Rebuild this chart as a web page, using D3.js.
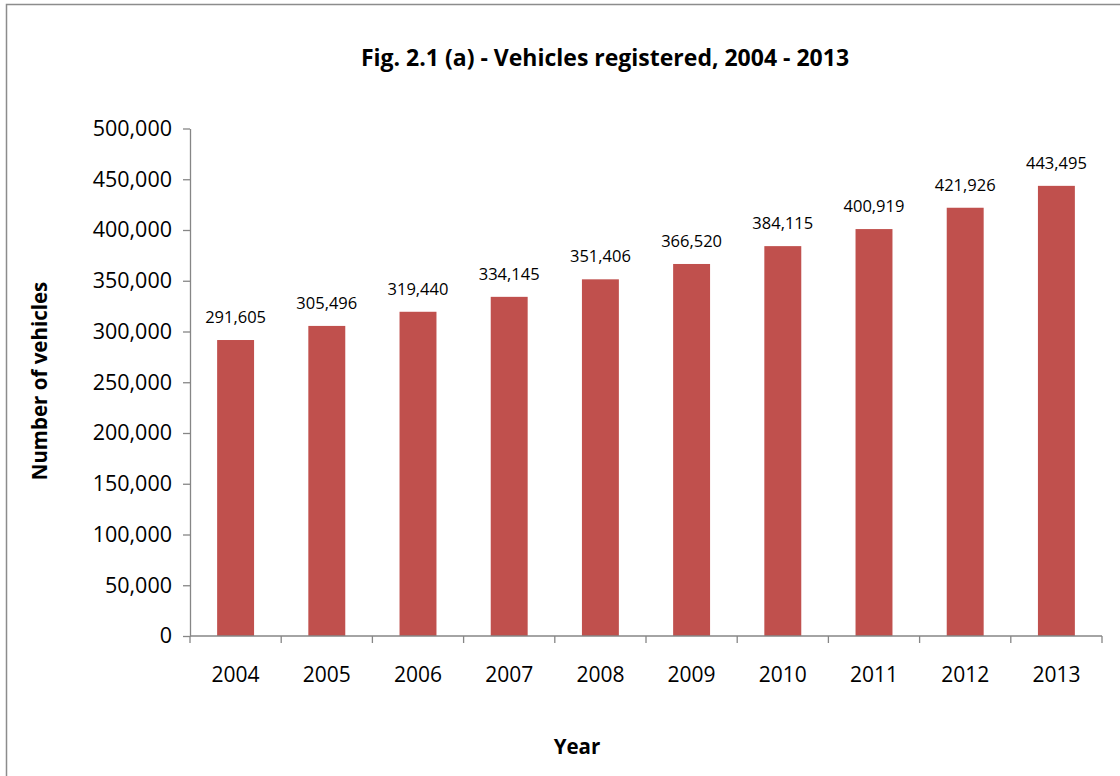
<!DOCTYPE html>
<html>
<head>
<meta charset="utf-8">
<script src="https://cdn.jsdelivr.net/npm/d3@7"></script>
<style>
  html, body { margin: 0; padding: 0; background: #fff; }
  svg { display: block; font-family: "Open Sans", "Liberation Sans", sans-serif; }
</style>
</head>
<body>
<svg id="chart" width="1120" height="776"></svg>
<script>
// Registered vehicles by year
const years = ["2004", "2005", "2006", "2007", "2008", "2009", "2010", "2011", "2012", "2013"];
const vehicles = [291605, 305496, 319440, 334145, 351406, 366520, 384115, 400919, 421926, 443495];
const yTicks = [0, 50000, 100000, 150000, 200000, 250000, 300000, 350000, 400000, 450000, 500000];

const titleText = "Fig. 2.1 (a) - Vehicles registered, 2004 - 2013";
const xTitle = "Year";
const yTitle = "Number of vehicles";

const svg = d3.select("#chart");
const fmt = d3.format(",");

// Plot frame
const plotLeft = 190, plotRight = 1102, plotTop = 128.5, plotBottom = 636;
const axisColor = "#868686";

// Outer chart border
svg.append("rect")
  .attr("x", 6.5).attr("y", 4.5)
  .attr("width", 1125).attr("height", 790)
  .attr("fill", "none").attr("stroke", "#8c8c8c").attr("stroke-width", 1.5);

const x = d3.scaleBand().domain(years).range([plotLeft, plotRight]).paddingInner(0.595).paddingOuter(0.2975);
const y = d3.scaleLinear().domain([0, 500000]).range([plotBottom, plotTop]);

// Bars
svg.append("g").selectAll("rect")
  .data(years)
  .join("rect")
  .attr("x", (d) => x(d))
  .attr("y", (d, i) => y(vehicles[i]))
  .attr("width", x.bandwidth())
  .attr("height", (d, i) => plotBottom - y(vehicles[i]))
  .attr("fill", "#C0504D");

// Value labels
svg.append("g").selectAll("text")
  .data(years)
  .join("text")
  .attr("x", (d) => x(d) + x.bandwidth() / 2)
  .attr("y", (d, i) => y(vehicles[i]) - 17)
  .attr("text-anchor", "middle")
  .attr("font-size", 16.5)
  .attr("fill", "#000")
  .text((d, i) => fmt(vehicles[i]));

// Y axis
const yAxis = svg.append("g")
  .attr("transform", `translate(${plotLeft},0)`)
  .call(d3.axisLeft(y).tickValues(yTicks).tickFormat(fmt).tickSize(7).tickSizeOuter(0).tickPadding(11));
yAxis.select(".domain").attr("stroke", axisColor).attr("stroke-width", 1.3);
yAxis.selectAll(".tick line").attr("stroke", axisColor).attr("stroke-width", 1.3);
yAxis.selectAll(".tick text")
  .attr("font-size", 21.5).attr("fill", "#000")
  .attr("font-family", "'Open Sans', sans-serif");

// X axis: ticks sit on the category boundaries
const xAxisG = svg.append("g").attr("transform", `translate(0,${plotBottom})`);
xAxisG.append("line")
  .attr("x1", plotLeft).attr("x2", plotRight).attr("y1", 0).attr("y2", 0)
  .attr("stroke", axisColor).attr("stroke-width", 1.3);
const boundaries = d3.range(years.length + 1).map((i) => plotLeft + i * x.step());
xAxisG.selectAll("line.b")
  .data(boundaries)
  .join("line")
  .attr("class", "b")
  .attr("x1", (d) => d).attr("x2", (d) => d)
  .attr("y1", 0).attr("y2", 7)
  .attr("stroke", axisColor).attr("stroke-width", 1.3);
xAxisG.selectAll("text")
  .data(years)
  .join("text")
  .attr("x", (d) => x(d) + x.bandwidth() / 2)
  .attr("y", 46)
  .attr("text-anchor", "middle")
  .attr("font-size", 21)
  .attr("fill", "#000")
  .text((d) => d);

// Titles
svg.append("text")
  .attr("x", 605).attr("y", 66)
  .attr("text-anchor", "middle")
  .attr("font-weight", "bold").attr("font-size", 23)
  .attr("fill", "#000")
  .text(titleText);

svg.append("text")
  .attr("x", 577).attr("y", 754)
  .attr("text-anchor", "middle")
  .attr("font-weight", "bold").attr("font-size", 20.5)
  .attr("fill", "#000")
  .text(xTitle);

svg.append("text")
  .attr("transform", "translate(46.5,381) rotate(-90)")
  .attr("text-anchor", "middle")
  .attr("font-weight", "bold").attr("font-size", 20.5)
  .attr("fill", "#000")
  .text(yTitle);
</script>
</body>
</html>
